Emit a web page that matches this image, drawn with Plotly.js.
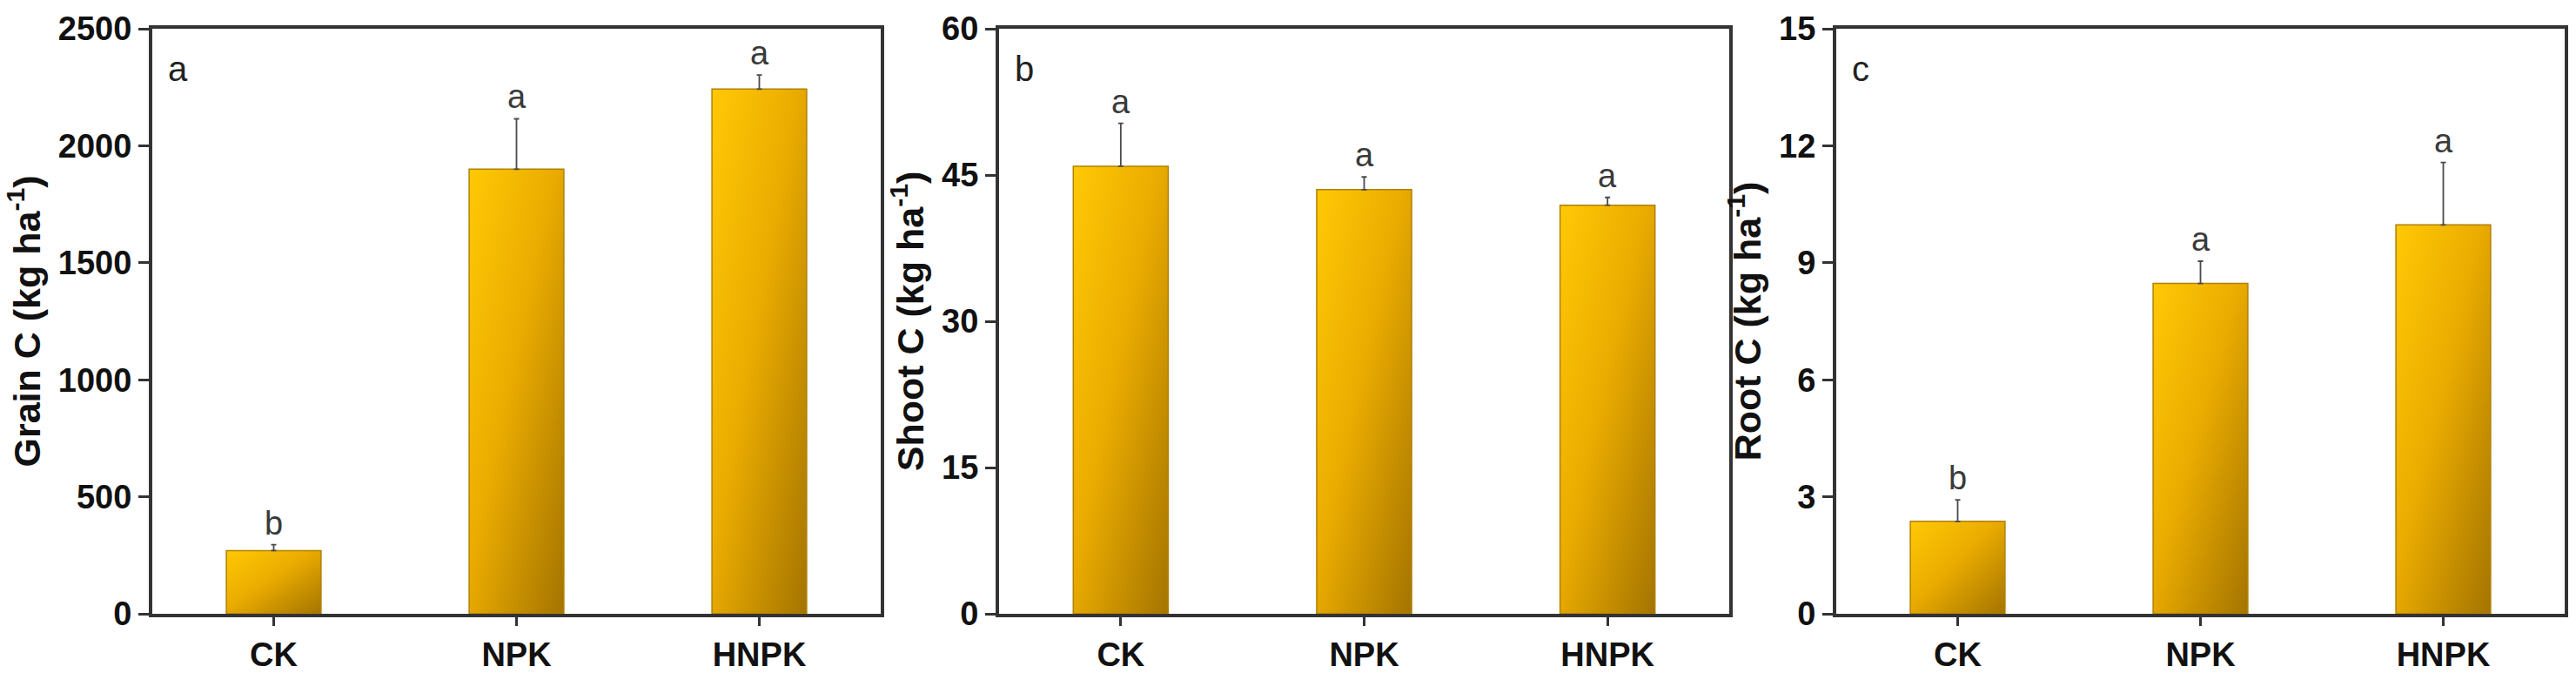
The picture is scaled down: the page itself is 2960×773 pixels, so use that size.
<!DOCTYPE html>
<html>
<head>
<meta charset="utf-8">
<script src="https://cdn.plot.ly/plotly-3.0.1.min.js"></script>
<style>
  html, body { margin: 0; padding: 0; background: #fff; }
  #chart { width: 2960px; height: 773px; }
</style>
</head>
<body>
<div id="chart"></div>
<script>
// ---------- data ----------
const categories = ['CK', 'NPK', 'HNPK'];

const grainC    = [270, 1900, 2242];
const grainErr  = [25, 215, 60];
const grainSig  = ['b', 'a', 'a'];

const shootC    = [45.9, 43.5, 41.9];
const shootErr  = [4.4, 1.3, 0.8];
const shootSig  = ['a', 'a', 'a'];

const rootC     = [2.37, 8.47, 9.97];
const rootErr   = [0.55, 0.57, 1.6];
const rootSig   = ['b', 'a', 'a'];

const panelLabels = ['a', 'b', 'c'];
const yTitles = [
  'Grain C (kg ha<sup>-1</sup>)',
  'Shoot C (kg ha<sup>-1</sup>)',
  'Root C (kg ha<sup>-1</sup>)'
];
const yMax   = [2500, 60, 15];
const yDtick = [500, 15, 3];

// ---------- style ----------
const FONT = 'Liberation Sans, Arial, Helvetica, sans-serif';
const AXIS_COLOR = '#333333';
const W = 2960, H = 773;
const xDomains = [[175 / W, 1012 / W], [1148 / W, 1987 / W], [2110 / W, 2947 / W]];
const yDomain = [(H - 705) / H, (H - 33) / H];

const panels = [
  { vals: grainC, err: grainErr, sig: grainSig },
  { vals: shootC, err: shootErr, sig: shootSig },
  { vals: rootC,  err: rootErr,  sig: rootSig }
];

const traces = [];
const annotations = [];
const layout = {
  width: W, height: H,
  margin: { l: 0, r: 0, t: 0, b: 0 },
  paper_bgcolor: '#ffffff',
  plot_bgcolor: '#ffffff',
  showlegend: false,
  font: { family: FONT, color: '#222' }
};

panels.forEach((p, i) => {
  const n = i === 0 ? '' : String(i + 1);
  traces.push({
    type: 'bar',
    x: categories,
    y: p.vals,
    xaxis: 'x' + n,
    yaxis: 'y' + n,
    width: 0.39,
    marker: { color: '#E8A800', line: { color: '#B08000', width: 1.5 } },
    error_y: {
      type: 'data', symmetric: false,
      array: p.err, arrayminus: p.err.map(() => 0),
      color: '#4a4a4a', thickness: 1.8, width: 3
    },
    hoverinfo: 'skip'
  });

  layout['xaxis' + n] = {
    domain: xDomains[i],
    anchor: 'y' + n,
    type: 'category',
    range: [-0.5, 2.5],
    showline: true, mirror: true, linecolor: AXIS_COLOR, linewidth: 4,
    ticks: 'outside', ticklen: 10, tickwidth: 3, tickcolor: AXIS_COLOR,
    showgrid: false, zeroline: false, fixedrange: true,
    tickfont: { family: FONT, size: 38, color: '#111', weight: 'bold' }
  };
  layout['yaxis' + n] = {
    domain: yDomain,
    anchor: 'x' + n,
    range: [0, yMax[i]],
    dtick: yDtick[i], tick0: 0,
    showline: true, mirror: true, linecolor: AXIS_COLOR, linewidth: 4,
    ticks: 'outside', ticklen: 12, tickwidth: 3, tickcolor: AXIS_COLOR,
    showgrid: false, zeroline: false, fixedrange: true,
    tickfont: { family: FONT, size: 38, color: '#111', weight: 'bold' },
    title: { text: yTitles[i], font: { family: FONT, size: 43, color: '#111', weight: 'bold' }, standoff: 8 }
  };

  // significance letters
  categories.forEach((c, j) => {
    annotations.push({
      xref: 'x' + n, yref: 'y' + n,
      x: c, y: p.vals[j] + p.err[j],
      text: p.sig[j], showarrow: false,
      yanchor: 'bottom', xanchor: 'center', yshift: 2,
      font: { family: FONT, size: 38, color: '#3a3a3a' }
    });
  });

  // panel letter
  annotations.push({
    xref: 'x' + n + ' domain', yref: 'y' + n + ' domain',
    x: 0, y: 1, xanchor: 'left', yanchor: 'top',
    xshift: 16, yshift: -22,
    text: panelLabels[i], showarrow: false,
    font: { family: FONT, size: 40, color: '#222' }
  });
});

layout.annotations = annotations;

Plotly.newPlot('chart', traces, layout, { staticPlot: true, displayModeBar: false }).then(gd => {
  // gold diagonal gradient on bars
  const svg = gd.querySelector('.main-svg');
  const ns = 'http://www.w3.org/2000/svg';
  const defs = document.createElementNS(ns, 'defs');
  const grad = document.createElementNS(ns, 'linearGradient');
  grad.setAttribute('id', 'barGrad');
  grad.setAttribute('x1', '0'); grad.setAttribute('y1', '0');
  grad.setAttribute('x2', '1'); grad.setAttribute('y2', '1');
  [['0', '#FFC905'], ['0.45', '#EBAC00'], ['1', '#A47400']].forEach(([o, c]) => {
    const s = document.createElementNS(ns, 'stop');
    s.setAttribute('offset', o); s.setAttribute('stop-color', c);
    grad.appendChild(s);
  });
  defs.appendChild(grad);
  svg.insertBefore(defs, svg.firstChild);
  gd.querySelectorAll('g.trace.bars g.point path').forEach(p => { p.style.fill = 'url(#barGrad)'; });
});
</script>
</body>
</html>
